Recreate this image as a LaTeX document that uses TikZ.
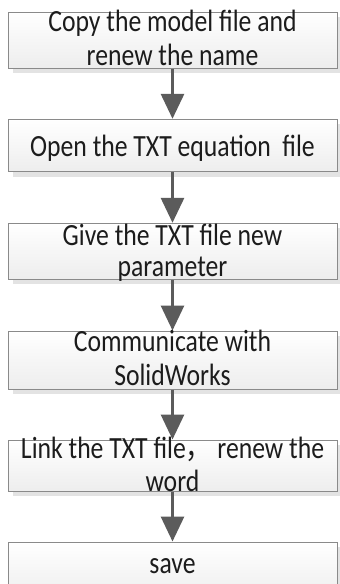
\documentclass[tikz,border=0pt]{standalone}
\usepackage{fontspec}
\setmainfont{Carlito}
\newfontfamily\cjkfont{Noto Sans CJK SC}
\usetikzlibrary{arrows.meta,shadows}
\definecolor{boxgray}{HTML}{8A8A8A}
\definecolor{arrowgray}{HTML}{5B5B5B}
\definecolor{textgray}{HTML}{1C1C1C}
\newcommand{\tall}[1]{\scalebox{1}[1.2]{#1}}
\begin{document}
\begin{tikzpicture}[x=1pt,y=-1pt,
  stepbox/.style={draw=boxgray, line width=1pt, top color=white, bottom color=black!7,
    minimum width=329pt, inner sep=0pt,
    general shadow={fill=black!11, shadow xshift=5pt, shadow yshift=-5pt}},
  steptext/.style={anchor=base, inner sep=0pt, text=textgray,
    font=\fontsize{25.7}{30}\selectfont},
  flow/.style={draw=arrowgray, line width=3pt, -{Triangle[width=23pt,length=25pt]}}]
\useasboundingbox (0,0) rectangle (340,584);

% process boxes
\node[stepbox, minimum height=56pt]   (b1) at (172.5,40)    {};
\node[stepbox, minimum height=52.4pt] (b2) at (172.5,145.5) {};
\node[stepbox, minimum height=56pt]   (b3) at (172.5,251.3) {};
\node[stepbox, minimum height=58pt]   (b4) at (172.5,360)   {};
\node[stepbox, minimum height=51pt]   (b5) at (172.5,465.5) {};
\node[stepbox, minimum height=58pt]   (b6) at (172.5,571)   {};

% flow arrows
\draw[flow] (b1.south) -- (b2.north);
\draw[flow] (b2.south) -- (b3.north);
\draw[flow] (b3.south) -- (b4.north);
\draw[flow] (b4.south) -- (b5.north);
\draw[flow] (b5.south) -- (b6.north);

% step texts
\node[steptext] (t1a) at (172.5,31.7)  {\tall{Copy the model file and}};
\node[steptext] (t1b) at (172.5,65)    {\tall{renew the name}};
\node[steptext] (t2)  at (172.5,156.7) {\tall{Open the TXT equation\ \ file}};
\node[steptext] (t3a) at (172.5,245)   {\tall{Give the TXT file new}};
\node[steptext] (t3b) at (172.5,276)   {\tall{parameter}};
\node[steptext] (t4a) at (172.5,351.7) {\tall{Communicate with}};
\node[steptext] (t4b) at (172.5,385)   {\tall{SolidWorks}};
\node[steptext] (t5a) at (172.5,458.3) {\tall{Link the TXT file{\cjkfont ，} renew the}};
\node[steptext] (t5b) at (172.5,491.7) {\tall{word}};
\node[steptext] (t6)  at (172.5,573)   {\tall{save}};
\end{tikzpicture}
\end{document}
